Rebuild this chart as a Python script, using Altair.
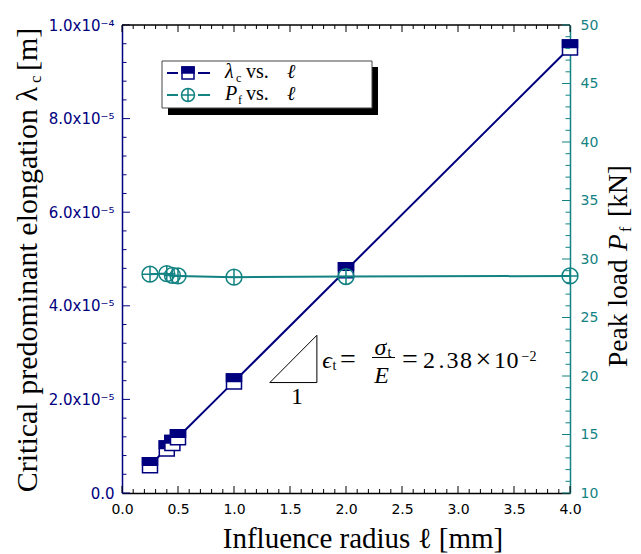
import altair as alt
import pandas as pd

NAVY = "#00007f"
TEAL = "#128282"

# ---------------- data ----------------
ell = [0.25, 0.40, 0.45, 0.50, 1.0, 2.0, 4.0]                       # influence radius [mm]
lam_c = [5.95e-6, 9.52e-6, 1.07e-5, 1.19e-5, 2.38e-5, 4.76e-5, 9.52e-5]  # critical elongation [m]
peak = [28.70, 28.75, 28.60, 28.55, 28.45, 28.50, 28.55]            # peak load [kN]

x_major = [0.0, 0.5, 1.0, 1.5, 2.0, 2.5, 3.0, 3.5, 4.0]
x_minor = [i / 10 for i in range(41) if i % 5]
lam_major = [0.0, 2e-5, 4e-5, 6e-5, 8e-5, 1e-4]
lam_labels = ["0.0", "2.0x10⁻⁵", "4.0x10⁻⁵", "6.0x10⁻⁵", "8.0x10⁻⁵", "1.0x10⁻⁴"]
lam_minor = [i * 4e-6 for i in range(26) if i % 5]
pf_major = [10, 15, 20, 25, 30, 35, 40, 45, 50]
pf_minor = [v for v in range(10, 51) if v % 5]

# slope triangle (data coordinates)
tri_x = [1.32, 1.74, 1.74, 1.32]
tri_y = [2.36e-5, 2.36e-5, 3.37e-5, 2.36e-5]

# ---------------- layout ----------------
W, H = 448, 468
X_DOM = [0, 4]
L_DOM = [0, 1e-4]
P_DOM = [10, 50]
SERIF = "Liberation Serif"
SANS = "DejaVu Sans"

SQ = "M-1,-1H1V1H-1Z"
HALF = "M-1,-1H1V0H-1Z"
CIRC = "M-1,0A1,1,0,1,0,1,0A1,1,0,1,0,-1,0ZM-1,0H1M0,-1V1"

xs = alt.Scale(domain=X_DOM, nice=False, zero=False)
ls = alt.Scale(domain=L_DOM, nice=False)
ps = alt.Scale(domain=P_DOM, nice=False, zero=False)

one = pd.DataFrame({"a": [0]})


def px2x(p):
    return X_DOM[0] + p / W * (X_DOM[1] - X_DOM[0])


def py2l(p):
    return L_DOM[1] - p / H * (L_DOM[1] - L_DOM[0])


def txt(s, x, y, size=27, italic=False, angle=0, align="left", color="black",
        font=SERIF, baseline="alphabetic"):
    kw = dict(font=font, fontSize=size, align=align, baseline=baseline, color=color)
    if italic:
        kw["fontStyle"] = "italic"
    if angle:
        kw["angle"] = angle
    return alt.Chart(one).mark_text(**kw).encode(
        x=alt.value(x), y=alt.value(y), text=alt.value(s))


x_axis = alt.Axis(values=x_major, format=".1f", ticks=False, grid=False, labelFlush=False,
                  domainColor="black", domainWidth=1.5, labelFont=SANS,
                  labelFontSize=14, labelColor="black", labelPadding=9, title=None)
lab_expr = "[" + ",".join("'%s'" % s for s in lam_labels) + "][round(datum.value / 0.00002)]"
lam_axis = alt.Axis(orient="left", values=lam_major, labelExpr=lab_expr, ticks=False,
                    grid=False, labelFlush=False, domainColor=NAVY, domainWidth=1.5,
                    labelFont=SANS, labelFontSize=15, labelColor=NAVY, labelPadding=8,
                    title=None)
pf_axis = alt.Axis(orient="right", values=pf_major, format="d", ticks=False, grid=False,
                   labelFlush=False, domainColor=TEAL, domainWidth=1.5, labelFont=SANS,
                   labelFontSize=14, labelColor=TEAL, labelPadding=10, title=None)


def X(field):
    return alt.X(field, scale=xs, axis=x_axis)


def YL(field):
    return alt.Y(field, scale=ls, axis=lam_axis)


def YP(field):
    return alt.Y(field, scale=ps, axis=pf_axis)


df = pd.DataFrame({"ell": ell, "lam": lam_c, "pf": peak})


def tick_rules(vals, length, chan, color, where):
    d = pd.DataFrame({"v": vals})
    m = alt.Chart(d).mark_rule(color=color, strokeWidth=1)
    if chan == "x":
        enc = dict(x=X("v:Q"))
        if where == "bottom":
            enc.update(y=alt.value(H), y2=alt.value(H - length))
        else:
            enc.update(y=alt.value(0), y2=alt.value(length))
    elif chan == "yl":
        enc = dict(y=YL("v:Q"), x=alt.value(0), x2=alt.value(length))
    else:
        enc = dict(y=YP("v:Q"), x=alt.value(W - length), x2=alt.value(W))
    return m.encode(**enc)


# ---------------- left (lambda) layer ----------------
lam_line = alt.Chart(df).mark_line(color=NAVY, strokeWidth=2).encode(
    x=X("ell:Q"), y=YL("lam:Q"))

sq_rows = []
for i, (e, l) in enumerate(zip(ell, lam_c)):
    for j, part in enumerate(["box", "top"]):
        sq_rows.append({"ell": e, "lam": l, "part": part, "k": 2 * i + j})
sq_df = pd.DataFrame(sq_rows)

squares = alt.Chart(sq_df).mark_point(filled=True, size=225, opacity=1, stroke=NAVY,
                                      strokeWidth=1.5).encode(
    x=X("ell:Q"), y=YL("lam:Q"),
    shape=alt.Shape("part:N", scale=alt.Scale(domain=["box", "top"], range=[SQ, HALF]), legend=None),
    fill=alt.Fill("part:N", scale=alt.Scale(domain=["box", "top"], range=["white", NAVY]), legend=None),
    order="k:Q")

tri = alt.Chart(pd.DataFrame({"x": tri_x, "y": tri_y, "o": list(range(len(tri_x)))})).mark_line(
    color="black", strokeWidth=1).encode(x=X("x:Q"), y=YL("y:Q"), order="o:Q")

# equation pieces: (text, centre x px, baseline y px, size, italic) relative to plot area
eq = [("1", 175, 379, 24, False),
      ("ϵ", 205, 343, 24, True), ("t", 212.5, 345, 14, False), ("=", 226, 343, 28, False),
      ("σ", 258.5, 330, 24, True), ("t", 267.5, 332, 14, False), ("E", 259.5, 358, 24, True),
      ("=", 288, 343, 28, False), ("2", 307, 343, 24, False), (".", 319.5, 343, 24, False),
      ("3", 330.5, 343, 24, False), ("8", 344, 343, 24, False), ("×", 361.5, 343, 28, False),
      ("1", 378, 343, 24, False), ("0", 390.5, 343, 24, False), ("−2", 407, 336, 14, False)]
eq_df = pd.DataFrame([{"t": t, "x": px2x(x), "y": py2l(y), "s": s, "it": it}
                      for t, x, y, s, it in eq])


def eq_layer(size, italic):
    kw = dict(font=SERIF, fontSize=size, align="center", baseline="alphabetic", color="black")
    if italic:
        kw["fontStyle"] = "italic"
    return alt.Chart(eq_df).transform_filter(
        (alt.datum.s == size) & (alt.datum.it == italic)).mark_text(**kw).encode(
        x=X("x:Q"), y=YL("y:Q"), text="t:N")


bar_df = pd.DataFrame({"x": [px2x(250)], "x2": [px2x(273)], "y": [py2l(332.5)]})
frac_bar = alt.Chart(bar_df).mark_rule(color="black", strokeWidth=1).encode(
    x=X("x:Q"), x2="x2:Q", y=YL("y:Q"))

top_line = alt.Chart(one).mark_rule(color="black", strokeWidth=1.5).encode(
    x=alt.value(0), x2=alt.value(W), y=alt.value(0))

# legend
shadow = alt.Chart(one).mark_rect(color="black").encode(
    x=alt.value(46), x2=alt.value(256), y=alt.value(42), y2=alt.value(90))
box = alt.Chart(one).mark_rect(fill="white", stroke="#444444", strokeWidth=1).encode(
    x=alt.value(40), x2=alt.value(250), y=alt.value(36), y2=alt.value(83))


def seg(x1, x2, y, color):
    return alt.Chart(one).mark_rule(color=color, strokeWidth=2).encode(
        x=alt.value(x1), x2=alt.value(x2), y=alt.value(y))


leg_sq1 = alt.Chart(one).mark_point(shape=SQ, filled=True, fill="white", stroke=NAVY,
                                    strokeWidth=1.5, size=144, opacity=1).encode(
    x=alt.value(66), y=alt.value(48))
leg_sq2 = alt.Chart(one).mark_point(shape=HALF, filled=True, fill=NAVY, stroke=NAVY,
                                    strokeWidth=1.5, size=144, opacity=1).encode(
    x=alt.value(66), y=alt.value(48))
leg_circ = alt.Chart(one).mark_point(shape=CIRC, filled=False, color=TEAL,
                                     strokeWidth=1.5, size=169, opacity=1).encode(
    x=alt.value(66), y=alt.value(70))

legend = [shadow, box, seg(45, 56, 48, NAVY), seg(76, 88, 48, NAVY), leg_sq1, leg_sq2,
          seg(45, 56, 70, TEAL), seg(76, 88, 70, TEAL), leg_circ,
          txt("λ", 103, 53, 20, True), txt("c", 114, 57, 12), txt("vs.", 124, 53, 20),
          txt("ℓ", 165, 53, 20, True),
          txt("P", 103, 75, 20, True), txt("f", 116, 79, 12), txt("vs.", 124, 75, 20),
          txt("ℓ", 165, 75, 20, True)]

titles_left = [
    txt("Influence radius ℓ [mm]", 241, 523, 29, align="center"),
    txt("Critical predominant elongation λ", -85, 62, 30, angle=270, align="right"),
    txt("c", -81, 58, 17, angle=270),
    txt("[m]", -85, 46, 30, angle=270),
]

left = alt.layer(
    tick_rules(x_major, 7, "x", "black", "bottom"),
    tick_rules(x_minor, 4, "x", "black", "bottom"),
    tick_rules(x_major, 7, "x", "black", "top"),
    tick_rules(x_minor, 4, "x", "black", "top"),
    tick_rules(lam_major, 8, "yl", NAVY, "left"),
    tick_rules(lam_minor, 4.5, "yl", NAVY, "left"),
    top_line,
    lam_line,
    squares,
    tri, frac_bar,
    eq_layer(24, False), eq_layer(24, True), eq_layer(28, False), eq_layer(14, False),
    *legend,
    *titles_left,
)

# ---------------- right (peak load) layer ----------------
pf_line = alt.Chart(df).mark_line(color=TEAL, strokeWidth=2).encode(
    x=X("ell:Q"), y=YP("pf:Q"))
circles = alt.Chart(df).mark_point(shape=CIRC, filled=False, color=TEAL, strokeWidth=1.5,
                                   size=250, opacity=1).encode(
    x=X("ell:Q"), y=YP("pf:Q"))

RT = 505  # baseline of the rotated right-hand title
right = alt.layer(
    tick_rules(pf_major, 8, "yp", TEAL, "right"),
    tick_rules(pf_minor, 4.5, "yp", TEAL, "right"),
    pf_line,
    circles,
    txt("Peak load", RT, 342, 27.5, angle=270),
    txt("P", RT, 226, 27.5, True, angle=270),
    txt("f", RT + 4, 207, 16, angle=270),
    txt("[kN]", RT, 192, 27.5, angle=270),
)

chart = alt.layer(left, right).resolve_scale(y="independent").properties(
    width=W, height=H,
    padding={"left": 114, "top": 17, "right": 63, "bottom": 61},
    autosize=alt.AutoSizeParams(type="none"),
).configure_view(stroke=None)

chart.save("out.html", embed_options={"renderer": "svg", "actions": False})
